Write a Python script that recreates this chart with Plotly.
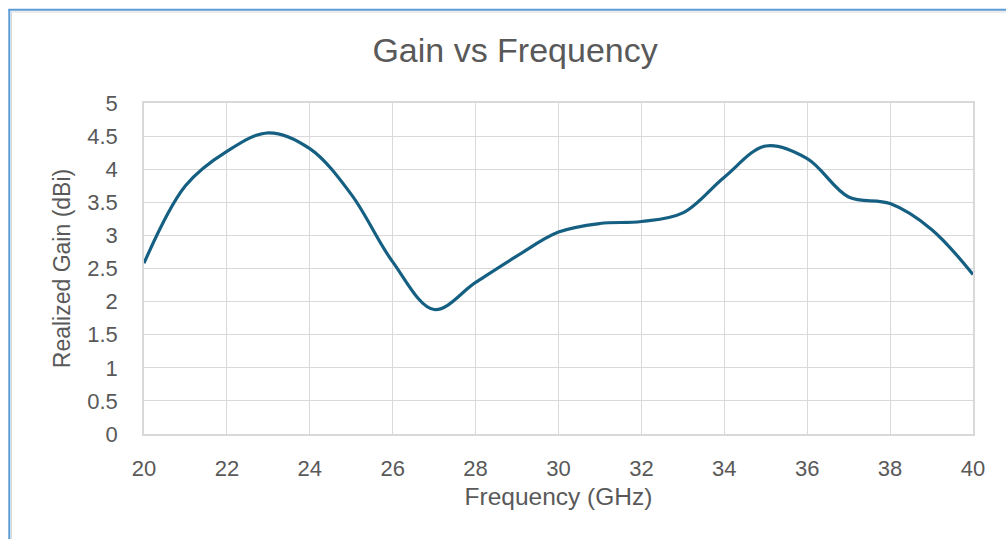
import plotly.graph_objects as go

freq_ghz = [20, 21, 22, 23, 24, 25, 26, 27, 28, 29, 30, 31, 32, 33, 34, 35, 36, 37, 38, 39, 40]
gain_dbi = [2.58, 3.75, 4.27, 4.55, 4.31, 3.62, 2.60, 1.88, 2.29, 2.69, 3.05, 3.18, 3.21, 3.34, 3.88, 4.35, 4.16, 3.58, 3.48, 3.09, 2.41]
x_ticks = [20, 22, 24, 26, 28, 30, 32, 34, 36, 38, 40]
y_ticks = [0, 0.5, 1, 1.5, 2, 2.5, 3, 3.5, 4, 4.5, 5]
y_tick_text = ["0", "0.5", "1", "1.5", "2", "2.5", "3", "3.5", "4", "4.5", "5"]

FONT = "Liberation Sans, Arial, sans-serif"
GREY = "#595959"
GRID = "#D9D9D9"

fig = go.Figure()
fig.add_trace(go.Scatter(
    x=freq_ghz, y=gain_dbi, mode="lines",
    line=dict(color="#156082", width=3.2, shape="spline", smoothing=1.0),
    showlegend=False, hoverinfo="x+y",
))

L, R, T, B = 144, 33, 103, 105
W, H = 1006, 539
pw, ph = W - L - R, H - T - B

def px(x):
    return (x - L) / pw

def py(y):
    return (H - B - y) / ph

shapes = [
    dict(type="line", xref="paper", yref="paper", x0=px(9.3), x1=px(9.3), y0=py(9.5), y1=py(560),
         line=dict(color="#5B9BD5", width=2)),
    dict(type="line", xref="paper", yref="paper", x0=px(8.3), x1=px(1020), y0=py(9.8), y1=py(9.8),
         line=dict(color="#5B9BD5", width=2)),
    dict(type="line", xref="paper", yref="paper", x0=px(11.5), x1=px(11.5), y0=py(12), y1=py(560),
         line=dict(color="#D9D9D9", width=1)),
    dict(type="line", xref="paper", yref="paper", x0=px(11), x1=px(1020), y0=py(12), y1=py(12),
         line=dict(color="#D9D9D9", width=1)),
]

fig.update_layout(
    width=W, height=H,
    margin=dict(l=L, r=R, t=T, b=B),
    paper_bgcolor="white", plot_bgcolor="white",
    font=dict(family=FONT, color=GREY, size=22),
    title=dict(text="Gain vs Frequency", x=0.512, xref="container", xanchor="center",
               y=1 - 50 / H, yref="container", yanchor="middle",
               font=dict(family=FONT, size=34, color=GREY)),
    shapes=shapes,
    xaxis=dict(
        range=[20, 40], tickmode="array", tickvals=x_ticks,
        showgrid=True, gridcolor=GRID, gridwidth=1.3,
        showline=True, linecolor=GRID, linewidth=1.5, mirror=True,
        zeroline=False, ticks="", ticklabelstandoff=14,
        tickfont=dict(size=22, color=GREY, family=FONT),
        title=dict(text="Frequency (GHz)", standoff=8,
                   font=dict(size=24.5, color=GREY, family=FONT)),
    ),
    yaxis=dict(
        range=[0, 5], tickmode="array", tickvals=y_ticks, ticktext=y_tick_text,
        showgrid=True, gridcolor=GRID, gridwidth=1.3,
        showline=True, linecolor=GRID, linewidth=1.5, mirror=True,
        zeroline=False, ticks="", ticklabelstandoff=20,
        tickfont=dict(size=22, color=GREY, family=FONT),
        title=dict(text="Realized Gain (dBi)", standoff=10,
                   font=dict(size=23, color=GREY, family=FONT)),
    ),
)

fig.write_html("out.html")
